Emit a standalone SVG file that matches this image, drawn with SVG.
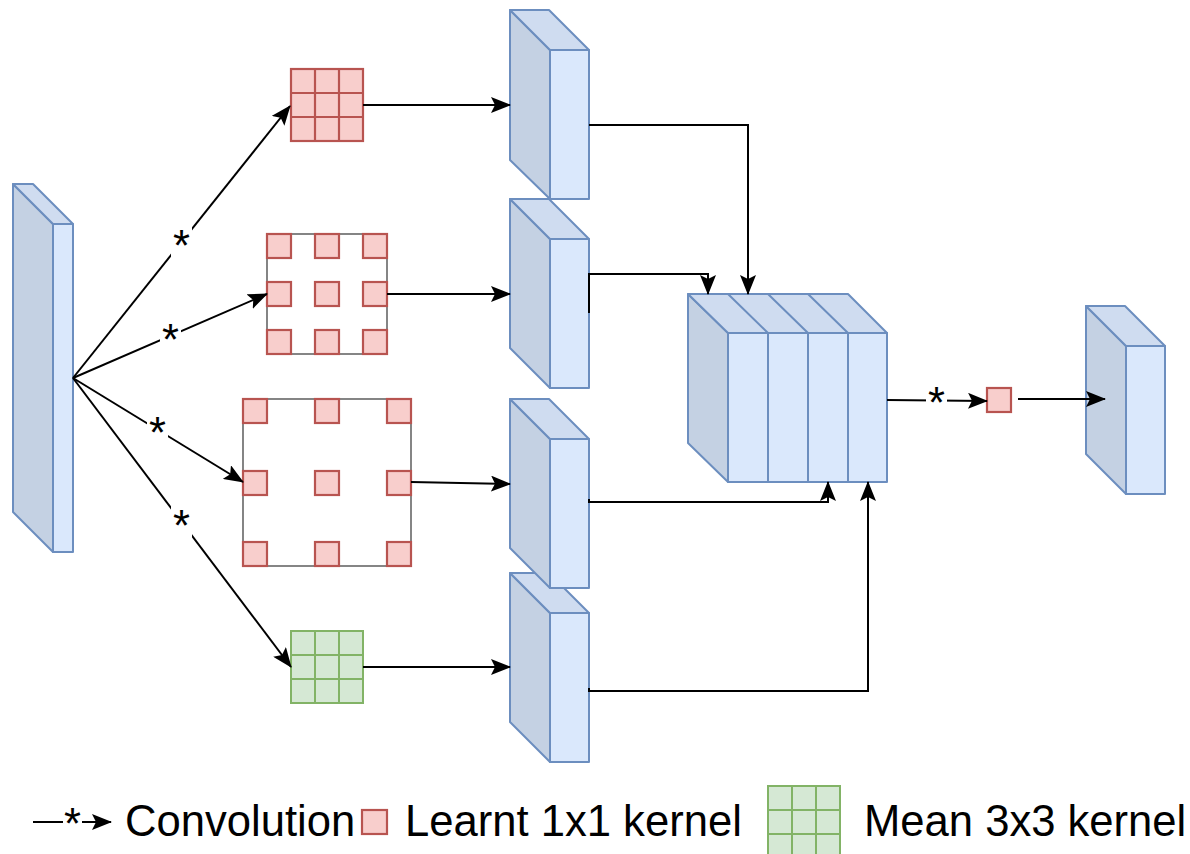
<svg xmlns="http://www.w3.org/2000/svg" width="1190" height="854" viewBox="0 0 1190 854">
<defs>
<marker id="arr" viewBox="0 0 20 16" refX="19" refY="8" markerWidth="20" markerHeight="16" markerUnits="userSpaceOnUse" orient="auto">
<path d="M0,0 L20,8 L0,16 L4,8 Z" fill="#000"/>
</marker>
<style>
.front{fill:#dae8fc;stroke:#6c8ebf;stroke-width:2;stroke-linejoin:round}
.side{fill:#c4d1e3;stroke:#6c8ebf;stroke-width:2;stroke-linejoin:round}
.top{fill:#cfdcf0;stroke:#6c8ebf;stroke-width:2;stroke-linejoin:round}
.red{fill:#f8cecc;stroke:#b85450;stroke-width:2.2}
.redline{stroke:#b85450;stroke-width:2.2;fill:none}
.green{fill:#d5e8d4;stroke:#82b366;stroke-width:2}
.greenline{stroke:#82b366;stroke-width:2;fill:none}
.box{fill:#fff;stroke:#444;stroke-width:1.3}
.edge{fill:none;stroke:#000;stroke-width:2}
.arrow{fill:none;stroke:#000;stroke-width:2;marker-end:url(#arr)}
.lbl{font-family:"Liberation Sans",Arial,sans-serif;font-size:43.6px;fill:#000}
.lblbg{fill:#fff}
</style>
</defs>
<rect width="1190" height="854" fill="#fff"/>

<g id="input">
<polygon class="side" points="13,184 53,224 53,552 13,512"/>
<polygon class="top" points="13,184 33,184 73,224 53,224"/>
<rect class="front" x="53" y="224" width="20" height="328"/>
</g>

<g id="kernel1">
<rect class="red" x="291" y="69" width="72" height="72"/>
<path class="redline" d="M315,69V141M339,69V141M291,93H363M291,117H363"/>
</g>

<g id="kernel2">
<rect class="box" x="267" y="234" width="120" height="120"/>
<rect class="red" x="267" y="234" width="24" height="24"/>
<rect class="red" x="315" y="234" width="24" height="24"/>
<rect class="red" x="363" y="234" width="24" height="24"/>
<rect class="red" x="267" y="282" width="24" height="24"/>
<rect class="red" x="315" y="282" width="24" height="24"/>
<rect class="red" x="363" y="282" width="24" height="24"/>
<rect class="red" x="267" y="330" width="24" height="24"/>
<rect class="red" x="315" y="330" width="24" height="24"/>
<rect class="red" x="363" y="330" width="24" height="24"/>
</g>

<g id="kernel3">
<rect class="box" x="243" y="399" width="168" height="167"/>
<rect class="red" x="243" y="399" width="24" height="24"/>
<rect class="red" x="315" y="399" width="24" height="24"/>
<rect class="red" x="387" y="399" width="24" height="24"/>
<rect class="red" x="243" y="471" width="24" height="24"/>
<rect class="red" x="315" y="471" width="24" height="24"/>
<rect class="red" x="387" y="471" width="24" height="24"/>
<rect class="red" x="243" y="542" width="24" height="24"/>
<rect class="red" x="315" y="542" width="24" height="24"/>
<rect class="red" x="387" y="542" width="24" height="24"/>
</g>

<g id="kernel4">
<rect class="green" x="291" y="631" width="72" height="72"/>
<path class="greenline" d="M315,631V703M339,631V703M291,655H363M291,679H363"/>
</g>

<g id="map1">
<polygon class="side" points="510,10 550,50 550,199 510,160"/>
<polygon class="top" points="510,10 549,10 589,50 550,50"/>
<rect class="front" x="550" y="50" width="39" height="149"/>
</g>

<g id="map2">
<polygon class="side" points="510,199 550,239 550,388 510,348"/>
<polygon class="top" points="510,199 549,199 589,239 550,239"/>
<rect class="front" x="550" y="239" width="39" height="149"/>
</g>

<g id="map4">
<polygon class="side" points="510,573 550,613 550,762 510,722"/>
<polygon class="top" points="510,573 549,573 589,613 550,613"/>
<rect class="front" x="550" y="613" width="39" height="149"/>
</g>

<g id="map3">
<polygon class="side" points="510,399 550,439 550,588 510,548"/>
<polygon class="top" points="510,399 549,399 589,439 550,439"/>
<rect class="front" x="550" y="439" width="39" height="149"/>
</g>

<g id="concat">
<polygon class="side" points="688,294 728,333 728,482 688,443"/>
<polygon class="top" points="688,294 848,294 887,333 728,333"/>
<rect class="front" x="728" y="333" width="159" height="149"/>
<path class="front" d="M728,294L768,333M768,294L808,333M808,294L848,333M768,333V482M808,333V482M848,333V482" fill="none"/>
</g>

<g id="kernel1x1">
<rect class="red" x="987" y="388" width="24" height="24"/>
</g>

<g id="output">
<polygon class="side" points="1086,306 1126,346 1126,494 1086,454"/>
<polygon class="top" points="1086,306 1125,306 1165,346 1126,346"/>
<rect class="front" x="1126" y="346" width="39" height="148"/>
</g>

<g id="connectors">
<path class="arrow" d="M73,378 L290,106"/>
<path class="arrow" d="M73,378 L267,294"/>
<path class="arrow" d="M73,378 L243,482"/>
<path class="arrow" d="M73,378 L291,667"/>
<rect class="lblbg" x="171" y="224" width="21" height="34"/>
<text class="lbl" x="181.5" y="261" text-anchor="middle">*</text>
<rect class="lblbg" x="160" y="318" width="21" height="30"/>
<text class="lbl" x="170.5" y="355" text-anchor="middle">*</text>
<rect class="lblbg" x="147" y="412" width="21" height="32"/>
<text class="lbl" x="157.5" y="448" text-anchor="middle">*</text>
<rect class="lblbg" x="171" y="505" width="21" height="34"/>
<text class="lbl" x="181.5" y="541" text-anchor="middle">*</text>

<path class="arrow" d="M363,105 L510,105"/>
<path class="arrow" d="M387,294 L510,294"/>
<path class="arrow" d="M411,482 L510,484"/>
<path class="arrow" d="M363,667 L510,667"/>

<path class="arrow" d="M589,125 L748,125 L748,294"/>
<path class="arrow" d="M589,313 L589,274 L708,274 L708,294"/>
<path class="arrow" d="M589,499 L589,502 L828,502 L828,482"/>
<path class="arrow" d="M589,688 L589,691 L868,691 L868,482"/>

<path class="arrow" d="M887,400 L987,401"/>
<rect class="lblbg" x="926" y="386" width="21" height="24"/>
<text class="lbl" x="936.5" y="418" text-anchor="middle">*</text>
<path class="arrow" d="M1018,399 L1105,399"/>
</g>

<g id="legend">
<path class="arrow" d="M33,822 L111,822"/>
<rect class="lblbg" x="63" y="810" width="19" height="24"/>
<text class="lbl" x="72.5" y="839" text-anchor="middle">*</text>
<text class="lbl" x="125" y="836">Convolution</text>
<rect class="red" x="362" y="810" width="25" height="24"/>
<text class="lbl" x="405" y="836">Learnt 1x1 kernel</text>
<rect class="green" x="768" y="786" width="72" height="72"/>
<path class="greenline" d="M792,786V858M816,786V858M768,810H840M768,834H840"/>
<text class="lbl" x="864" y="836">Mean 3x3 kernel</text>
</g>
</svg>
